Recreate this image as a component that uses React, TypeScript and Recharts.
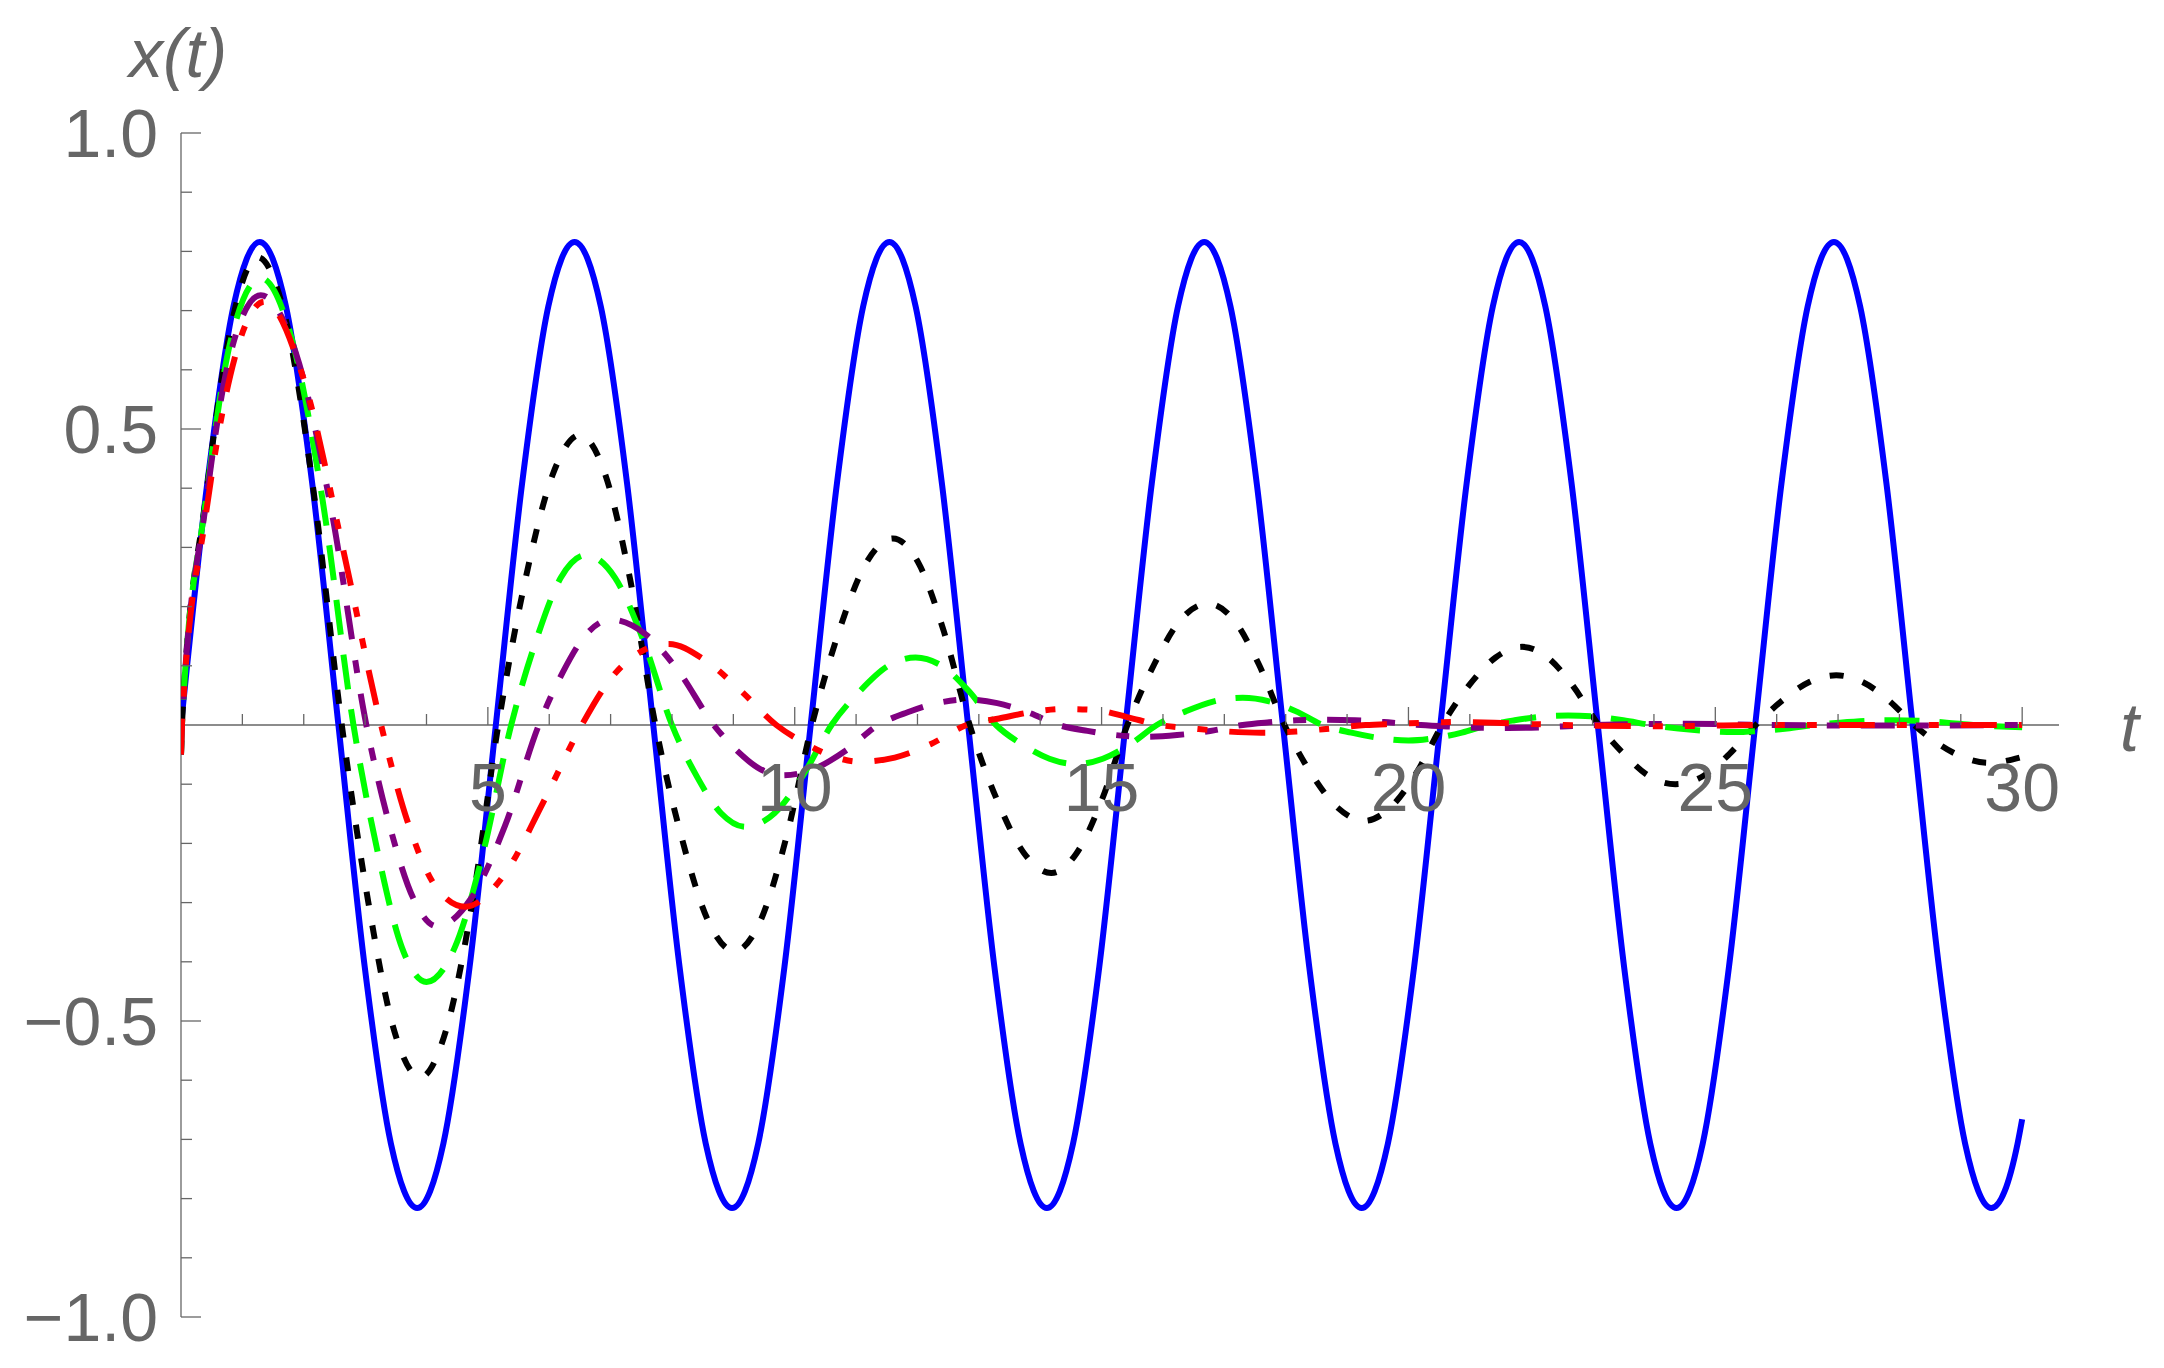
import { LineChart, Line, XAxis, YAxis, ReferenceLine } from "recharts";

// t, x(t) pairs
const blue: [number, number][] = [
  [0, 0], [0.428, 0.408], [0.855, 0.707], [1.283, 0.816], [1.71, 0.707], [2.138, 0.408],
  [2.565, 0], [2.993, -0.408], [3.42, -0.707], [3.848, -0.816], [4.275, -0.707], [4.703, -0.408],
  [5.13, 0], [5.558, 0.408], [5.985, 0.707], [6.413, 0.816], [6.84, 0.707], [7.268, 0.408],
  [7.695, 0], [8.123, -0.408], [8.55, -0.707], [8.978, -0.816], [9.405, -0.707], [9.833, -0.408],
  [10.26, 0], [10.688, 0.408], [11.115, 0.707], [11.543, 0.816], [11.97, 0.707], [12.398, 0.408],
  [12.825, 0], [13.253, -0.408], [13.68, -0.707], [14.108, -0.816], [14.535, -0.707], [14.963, -0.408],
  [15.39, 0], [15.818, 0.408], [16.245, 0.707], [16.673, 0.816], [17.1, 0.707], [17.528, 0.408],
  [17.955, 0], [18.383, -0.408], [18.81, -0.707], [19.238, -0.816], [19.665, -0.707], [20.093, -0.408],
  [20.52, 0], [20.948, 0.408], [21.375, 0.707], [21.803, 0.816], [22.23, 0.707], [22.658, 0.408],
  [23.085, 0], [23.513, -0.408], [23.94, -0.707], [24.368, -0.816], [24.795, -0.707], [25.223, -0.408],
  [25.65, 0], [26.078, 0.408], [26.505, 0.707], [26.933, 0.816], [27.36, 0.707], [27.788, 0.408],
  [28.215, 0], [28.643, -0.408], [29.07, -0.707], [29.498, -0.816], [29.925, -0.707], [30, -0.666],
];

const black: [number, number][] = [
  [0, -0.05], [0.02, 0.01], [0.4, 0.38], [0.8, 0.665], [1.25, 0.79],
  [1.71, 0.684], [2.16, 0.395], [2.62, 0],
  [3.05, -0.298], [3.47, -0.515], [3.9, -0.595],
  [4.32, -0.515], [4.75, -0.298], [5.17, 0],
  [5.61, 0.245], [6.06, 0.424], [6.5, 0.49],
  [6.91, 0.424], [7.32, 0.245], [7.73, 0],
  [8.16, -0.191], [8.59, -0.331], [9.02, -0.382],
  [9.44, -0.331], [9.86, -0.191], [10.28, 0],
  [10.72, 0.158], [11.16, 0.273], [11.6, 0.315],
  [12.02, 0.273], [12.43, 0.158], [12.85, 0],
  [13.29, -0.125], [13.74, -0.217], [14.18, -0.25],
  [14.59, -0.217], [15.01, -0.125], [15.42, 0],
  [15.86, 0.103], [16.29, 0.178], [16.73, 0.205],
  [17.15, 0.178], [17.56, 0.103], [17.98, 0],
  [18.41, -0.081], [18.85, -0.14], [19.28, -0.162],
  [19.7, -0.14], [20.13, -0.081], [20.55, 0],
  [20.98, 0.066], [21.42, 0.114], [21.85, 0.132],
  [22.27, 0.114], [22.68, 0.066], [23.1, 0],
  [23.52, -0.05], [23.93, -0.087], [24.35, -0.1],
  [24.79, -0.087], [25.22, -0.05], [25.66, 0],
  [26.1, 0.042], [26.54, 0.073], [26.97, 0.084],
  [27.39, 0.073], [27.82, 0.042], [28.24, 0],
  [28.64, -0.032], [29.05, -0.055], [29.45, -0.064],
  [30, -0.054],
];

const green: [number, number][] = [
  [0, -0.05], [0.02, 0.01], [0.4, 0.375], [0.8, 0.645], [1.3, 0.755],
  [1.8, 0.654], [2.31, 0.378], [2.81, 0],
  [3.21, -0.217], [3.6, -0.376], [4.0, -0.434],
  [4.46, -0.376], [4.92, -0.217], [5.38, 0],
  [5.79, 0.144], [6.19, 0.249], [6.6, 0.287],
  [7.07, 0.249], [7.53, 0.144], [8.0, 0],
  [8.4, -0.086], [8.8, -0.149], [9.2, -0.172],
  [9.67, -0.149], [10.13, -0.086], [10.6, 0],
  [11.06, 0.057], [11.51, 0.099], [11.97, 0.114],
  [12.41, 0.099], [12.84, 0.057], [13.28, 0],
  [13.71, -0.033], [14.15, -0.057], [14.58, -0.066],
  [15.02, -0.057], [15.46, -0.033], [15.9, 0],
  [16.37, 0.023], [16.83, 0.04], [17.3, 0.046],
  [17.73, 0.04], [18.17, 0.023], [18.6, 0],
  [19.07, -0.013], [19.53, -0.022], [20.0, -0.026],
  [20.43, -0.022], [20.87, -0.013], [21.3, 0],
  [21.73, 0.008], [22.17, 0.014], [22.6, 0.016],
  [23.05, 0.014], [23.5, 0.008], [23.95, 0],
  [24.4, -0.006], [24.85, -0.01], [25.3, -0.012],
  [25.73, -0.01], [26.17, -0.006], [26.6, 0],
  [27.03, 0.004], [27.47, 0.007], [27.9, 0.008],
  [28.33, 0.007], [28.77, 0.004], [29.2, 0],
  [30, -0.004],
];

const purple: [number, number][] = [
  [0, -0.05], [0.02, 0.01], [0.4, 0.37], [0.8, 0.625], [1.3, 0.726],
  [1.87, 0.629], [2.45, 0.363], [3.02, 0],
  [3.4, -0.17], [3.79, -0.294], [4.17, -0.34],
  [4.72, -0.294], [5.28, -0.17], [5.83, 0],
  [6.22, 0.089], [6.61, 0.154], [7.0, 0.178],
  [7.56, 0.154], [8.12, 0.089], [8.68, 0],
  [9.05, -0.0425], [9.43, -0.074], [9.8, -0.085],
  [10.32, -0.074], [10.84, -0.0425], [11.36, 0],
  [11.84, 0.0215], [12.32, 0.037], [12.8, 0.043],
  [13.3, 0.037], [13.8, 0.0215], [14.3, 0],
  [14.77, -0.01], [15.23, -0.017], [15.7, -0.02],
  [16.23, -0.017], [16.77, -0.01], [17.3, 0],
  [17.73, 0.0045], [18.17, 0.008], [18.6, 0.009],
  [19.13, 0.008], [19.67, 0.0045], [20.2, 0],
  [20.63, -0.0025], [21.07, -0.0045], [21.5, -0.005],
  [22.0, -0.0045], [22.5, -0.0025], [23.0, 0],
  [24.5, 0.002], [26, 0], [27.5, -0.001], [30, 0],
];

const red: [number, number][] = [
  [0, -0.05], [0.02, 0.01], [0.4, 0.352], [0.8, 0.589], [1.36, 0.715],
  [1.99, 0.587], [2.63, 0.302], [3.26, 0],
  [3.72, -0.172], [4.17, -0.276], [4.63, -0.307],
  [5.26, -0.254], [5.9, -0.131], [6.53, 0],
  [7.0, 0.078], [7.48, 0.123], [7.95, 0.137],
  [8.53, 0.11], [9.12, 0.058], [9.7, 0],
  [10.15, -0.03], [10.6, -0.052], [11.05, -0.062],
  [11.63, -0.055], [12.22, -0.032], [12.8, 0],
  [13.33, 0.011], [13.87, 0.022], [14.4, 0.027],
  [14.92, 0.025], [15.43, 0.013], [15.95, 0],
  [16.5, -0.006], [17.05, -0.011], [17.6, -0.013],
  [18.17, -0.011], [18.73, -0.006], [19.3, 0],
  [19.8, 0.002], [20.3, 0.004], [20.8, 0.005],
  [21.4, 0.004], [21.9, 0.002], [22.5, 0],
  [24, -0.002], [26, 0], [30, 0],
];

const tTicks = Array.from({ length: 30 }, (_, i) => i + 1);
const tMajor = [5, 10, 15, 20, 25, 30];
const xTicks = [-1, -0.9, -0.8, -0.7, -0.6, -0.5, -0.4, -0.3, -0.2, -0.1, 0.1, 0.2, 0.3, 0.4, 0.5, 0.6, 0.7, 0.8, 0.9, 1];
const xMajor = [-1, -0.5, 0.5, 1];

const W = 2148;
const H = 1352;
const MARGIN = { top: 125, right: 97, bottom: 42, left: 172 };
const AXIS_W = 1;
const AXIS_H = 1;
const PLOT_H = H - MARGIN.top - MARGIN.bottom - AXIS_H;
const GRAY = "#666666";
const FONT = '"Liberation Sans", Arial, sans-serif';
const FS = 68;

const toRows = (pts: [number, number][]) => pts.map(([t, x]) => ({ t, x }));

function TTick(props: any) {
  const { x, y, payload } = props;
  const zeroY = y - PLOT_H / 2;
  const major = tMajor.includes(payload.value);
  return (
    <g>
      <line x1={x} x2={x} y1={zeroY} y2={zeroY - (major ? 18 : 11)} stroke={GRAY} strokeWidth={1.3} />
      {major && (
        <text x={x} y={zeroY + 86} textAnchor="middle" fill={GRAY} fontSize={FS} fontFamily={FONT}>
          {payload.value}
        </text>
      )}
    </g>
  );
}

function XTick(props: any) {
  const { x, y, payload } = props;
  const v = payload.value;
  const major = xMajor.some((m) => Math.abs(m - v) < 1e-9);
  const label = (v < 0 ? "\u2212" : "") + Math.abs(v).toFixed(1);
  return (
    <g>
      <line x1={x} x2={x + (major ? 20 : 11)} y1={y} y2={y} stroke={GRAY} strokeWidth={1.3} />
      {major && (
        <text x={x - 23} y={y + 24} textAnchor="end" fill={GRAY} fontSize={FS} fontFamily={FONT}>
          {label}
        </text>
      )}
    </g>
  );
}

function TAxisLabel(props: any) {
  const { viewBox } = props;
  return (
    <text x={viewBox.x + viewBox.width + 61} y={viewBox.y + 26} fill={GRAY} fontSize={FS} fontFamily={FONT} fontStyle="italic">
      t
    </text>
  );
}

function XAxisLabel(props: any) {
  const { viewBox } = props;
  return (
    <text x={viewBox.x - 3} y={viewBox.y - 56} textAnchor="middle" fill={GRAY} fontSize={FS} fontFamily={FONT} fontStyle="italic">
      x(t)
    </text>
  );
}

const series = [
  { name: "blue", data: blue, color: "#0000ff", dash: undefined },
  { name: "black", data: black, color: "#000000", dash: "14 20" },
  { name: "green", data: green, color: "#00ff00", dash: "35 20" },
  { name: "purple", data: purple, color: "#800080", dash: "34 21 13 21" },
  { name: "red", data: red, color: "#ff0000", dash: "36 22 10 22 10 22" },
];

export default function App() {
  return (
    <div style={{ width: W, height: H, background: "#fff" }}>
      <LineChart width={W} height={H} margin={MARGIN}>
        <XAxis
          dataKey="t"
          type="number"
          domain={[0, 30.6]}
          ticks={tTicks}
          interval={0}
          height={AXIS_H}
          tickSize={0}
          tickMargin={0}
          axisLine={false}
          tickLine={false}
          tick={(p: any) => <TTick {...p} />}
          allowDataOverflow
        />
        <YAxis
          type="number"
          domain={[-1, 1]}
          ticks={xTicks}
          interval={0}
          width={AXIS_W}
          tickSize={0}
          tickMargin={0}
          axisLine={false}
          tickLine={false}
          tick={(p: any) => <XTick {...p} />}
          allowDataOverflow
        />
        <ReferenceLine y={0} stroke={GRAY} strokeWidth={1.3} label={{ content: (p: any) => <TAxisLabel {...p} /> }} />
        <ReferenceLine x={0} stroke={GRAY} strokeWidth={1.3} label={{ content: (p: any) => <XAxisLabel {...p} /> }} />
        {series.map((s) => (
          <Line
            key={s.name}
            data={toRows(s.data)}
            dataKey="x"
            type="monotone"
            stroke={s.color}
            strokeWidth={6}
            strokeDasharray={s.dash}
            strokeLinecap="butt"
            dot={false}
            activeDot={false}
            isAnimationActive={false}
          />
        ))}
      </LineChart>
    </div>
  );
}
